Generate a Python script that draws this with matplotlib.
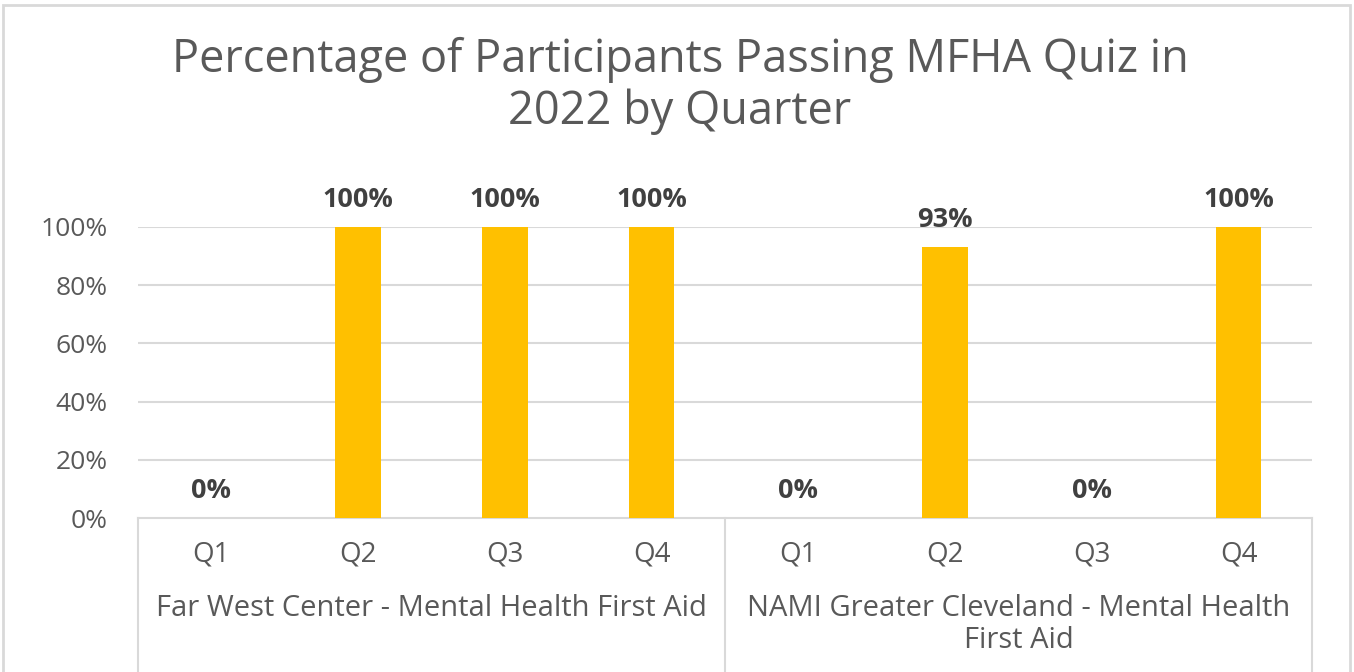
import matplotlib
import matplotlib.pyplot as plt
from matplotlib.patches import Rectangle

matplotlib.use("Agg")

# chart data
quarters = ["Q1", "Q2", "Q3", "Q4", "Q1", "Q2", "Q3", "Q4"]
pass_rates = [0, 100, 100, 100, 0, 93, 0, 100]
groups = ["Far West Center - Mental Health First Aid",
          "NAMI Greater Cleveland - Mental Health\nFirst Aid"]
y_ticks = [0, 20, 40, 60, 80, 100]
title = "Percentage of Participants Passing MFHA Quiz in\n2022 by Quarter"

W, H = 1354, 672
plt.rcParams["font.family"] = ["Open Sans", "DejaVu Sans"]
text_grey = "#595959"
grid_grey = "#D9D9D9"

fig = plt.figure(figsize=(W / 100, H / 100), dpi=100)
fig.patch.set_facecolor("white")

# outer chart border
fig.add_artist(Rectangle((3 / W, -0.01), (1350 - 3) / W, 1 - 5 / H + 0.01,
                         transform=fig.transFigure, fill=False,
                         edgecolor=grid_grey, linewidth=2))

left, right, top, bottom = 138, 1312, 227, 518
ax = fig.add_axes([left / W, 1 - bottom / H, (right - left) / W, (bottom - top) / H])

x = list(range(len(quarters)))
ax.bar(x, pass_rates, width=0.31, color="#FFC000", zorder=3)
ax.set_xlim(-0.5, len(quarters) - 0.5)
ax.set_ylim(0, 100)

ax.set_yticks(y_ticks)
ax.set_yticklabels([f"{t}%" for t in y_ticks])
ax.tick_params(axis="y", length=0, pad=22, labelsize=19, labelcolor=text_grey)
ax.set_xticks([])
for t in y_ticks[1:]:
    ax.axhline(t, color=grid_grey, linewidth=1.5, zorder=1)
for s in ["top", "right", "left"]:
    ax.spines[s].set_visible(False)
ax.spines["bottom"].set_color(grid_grey)
ax.spines["bottom"].set_linewidth(1.5)

for xi, v in zip(x, pass_rates):
    ax.annotate(f"{v}%", (xi, v), xytext=(0, 10), textcoords="offset points",
                ha="center", va="bottom", fontsize=19.5, fontweight="bold",
                color="#404040")

# multi-level category axis
trans = ax.get_xaxis_transform()
px = 1 / (bottom - top)
for xs in [-0.5, 3.5, 7.5]:
    ax.plot([xs, xs], [0, -(H - bottom) * px - 0.05], color=grid_grey,
            linewidth=1.5, transform=trans, clip_on=False)
for xi, q in zip(x, quarters):
    ax.text(xi, -(554 - bottom) * px, q, transform=trans, ha="center",
            va="center", fontsize=20, color=text_grey)
for i, g in enumerate(groups):
    ax.text(i * 4 + 1.5, -(594 - bottom) * px, g, transform=trans, ha="center",
            va="top", fontsize=21, color=text_grey, linespacing=1.12)

fig.text(680 / W, 1 - 86 / H, title, ha="center", va="center", fontsize=32.5,
         color=text_grey, linespacing=1.15)

fig.savefig("out.png", dpi=100)
